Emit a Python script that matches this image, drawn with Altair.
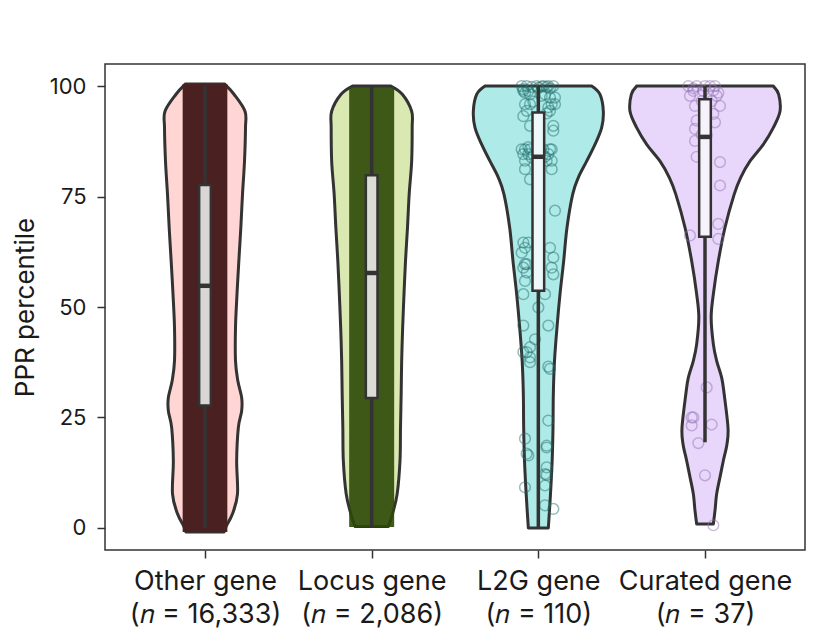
import altair as alt
import pandas as pd

# ---------------- data ----------------
categories = ["Other gene", "Locus gene", "L2G gene", "Curated gene"]
counts = ["16,333", "2,086", "110", "37"]
positions = [0, 1, 2, 3]

# violin outlines: y level and half-width (in x units)
other_y = [100.5, 98.1, 94.3, 90.6, 83.0, 75.5, 68.0, 60.4, 52.9, 45.4, 37.8, 33.3, 29.5, 26.5, 22.7, 15.2, 7.7, 3.2, 0.2, -0.9]
other_w = [0.117, 0.175, 0.240, 0.243, 0.237, 0.225, 0.215, 0.203, 0.192, 0.183, 0.183, 0.197, 0.220, 0.220, 0.200, 0.190, 0.195, 0.165, 0.125, 0.115]

locus_y = [100.0, 98.1, 94.3, 90.6, 83.0, 75.5, 68.0, 60.4, 52.9, 45.4, 37.8, 30.3, 22.7, 15.2, 7.7, 3.2, 0.3]
locus_w = [0.115, 0.185, 0.240, 0.243, 0.240, 0.225, 0.215, 0.203, 0.194, 0.186, 0.180, 0.177, 0.173, 0.170, 0.153, 0.125, 0.100]

l2g_y = [100.0, 98.1, 94.3, 90.6, 86.8, 83.0, 79.3, 75.5, 68.0, 60.4, 52.9, 45.4, 37.8, 30.3, 22.7, 15.2, 7.7, 0.0]
l2g_w = [0.320, 0.370, 0.390, 0.380, 0.340, 0.290, 0.240, 0.206, 0.172, 0.152, 0.130, 0.112, 0.097, 0.090, 0.088, 0.083, 0.073, 0.060]

cur_y = [100.0, 98.1, 94.3, 90.6, 86.8, 83.0, 79.3, 75.5, 68.0, 60.4, 52.9, 47.6, 41.6, 37.8, 34.0, 30.3, 22.7, 19.0, 15.2, 11.5, 7.7, 3.9, 0.9]
cur_w = [0.410, 0.442, 0.450, 0.410, 0.350, 0.270, 0.214, 0.175, 0.120, 0.080, 0.050, 0.037, 0.050, 0.070, 0.100, 0.115, 0.138, 0.132, 0.110, 0.090, 0.070, 0.060, 0.050]

# box plot statistics
q1 = [27.7, 29.4, 53.7, 65.9]
median = [54.8, 57.7, 84.0, 88.5]
q3 = [77.6, 79.8, 94.0, 97.0]
whisk_lo = [0.0, 0.0, 0.0, 19.4]
whisk_hi = [100.0, 100.0, 100.0, 100.0]

# dense jitter clouds (Other gene / Locus gene): y extent and half-width
cloud_groups = ["Other gene", "Locus gene"]
cloud_lo = [-0.9, 0.2]
cloud_hi = [100.5, 99.8]
cloud_hw = [0.134, 0.135]

# individual jittered points: (PPR percentile, jitter offset)
l2g_points = [
    (100.0, -0.10), (100.0, -0.07), (100.0, -0.01), (100.0, 0.03), (100.0, 0.06), (100.0, 0.09),
    (99.8, -0.04), (99.8, 0.05), (99.6, 0.00), (99.5, 0.07), (99.3, -0.09), (99.9, 0.02),
    (98.9, -0.09), (98.9, -0.06), (98.5, -0.08), (98.1, -0.05), (98.1, 0.04), (97.8, 0.02),
    (97.4, 0.07), (97.4, 0.10), (96.5, -0.03), (95.9, -0.08), (95.9, -0.05), (95.9, 0.08),
    (95.9, 0.10), (95.2, 0.06), (94.4, -0.07), (94.4, 0.07), (93.8, 0.05), (93.2, -0.09),
    (91.0, -0.05), (91.0, 0.09), (89.9, 0.09), (86.2, -0.06), (85.7, -0.10), (85.7, -0.08),
    (85.7, -0.05), (85.7, 0.03), (85.7, 0.07), (85.7, 0.08), (85.2, 0.01), (84.6, -0.09),
    (84.6, -0.06), (84.6, 0.06), (84.0, 0.04), (83.8, -0.04), (83.1, -0.08), (83.1, 0.08),
    (83.1, 0.05), (81.2, -0.08), (81.2, 0.08), (78.9, -0.05), (71.8, 0.10), (64.6, -0.09),
    (64.6, -0.06), (63.4, -0.08), (63.4, 0.07), (62.3, -0.10), (61.2, 0.09), (59.7, -0.07),
    (59.7, -0.08), (58.9, -0.09), (58.9, 0.08), (57.8, -0.07), (57.4, 0.09), (55.9, -0.08),
    (52.9, -0.09), (52.9, 0.04), (49.9, 0.00), (45.8, -0.09), (45.8, 0.06), (42.7, -0.02),
    (40.9, -0.05), (39.8, -0.09), (39.8, -0.07), (38.6, -0.05), (37.5, -0.05), (36.5, 0.06),
    (36.0, 0.07), (24.3, 0.06), (20.2, -0.08), (18.6, 0.05), (18.2, 0.05), (16.8, -0.07),
    (16.4, -0.06), (13.7, 0.05), (12.2, 0.04), (12.0, 0.05), (9.6, 0.04), (9.2, -0.08),
    (5.1, 0.04), (4.3, 0.09),
]
cur_points = [
    (100.0, -0.10), (100.0, -0.05), (100.0, 0.03), (100.0, 0.06), (100.0, 0.00), (99.5, -0.07),
    (99.0, 0.05), (98.9, -0.07), (98.9, -0.01), (98.5, 0.08), (97.8, -0.09), (97.8, 0.07),
    (96.6, -0.02), (96.6, 0.04), (95.5, 0.09), (95.5, -0.06), (93.7, 0.05), (92.2, -0.05),
    (91.8, 0.06), (90.3, -0.06), (89.0, -0.02), (88.9, 0.01), (87.6, -0.06), (84.0, -0.05),
    (82.8, 0.09), (77.5, 0.09), (68.8, 0.08), (66.2, -0.09), (65.4, 0.08), (31.8, 0.01),
    (25.0, -0.08), (25.0, -0.07), (23.2, -0.08), (23.4, 0.04), (19.2, -0.04), (11.9, 0.00),
    (0.6, 0.05),
]

# ---------------- styles ----------------
violin_fill = ["#ffd6d3", "#d9e9b1", "#aeeae8", "#e9d6fb"]
box_fill = ["#dad6d6", "#dcdcd6", "#eef8f8", "#f7f1fc"]
cloud_color = ["#4a2020", "#2c4807"]
cloud_opacity = [1.0, 0.9]
point_color = {"L2G gene": "#1d6e6a", "Curated gene": "#8f70b3"}
INK = "#333333"
FONT = "Inter"

# ---------------- tables ----------------
shapes = [(other_y, other_w), (locus_y, locus_w), (l2g_y, l2g_w), (cur_y, cur_w)]
vrows = []
for cat, pos, (ys, ws) in zip(categories, positions, shapes):
    for yv, wv in zip(ys, ws):
        vrows.append({"group": cat, "y": yv, "lo": pos - wv, "hi": pos + wv})
vdf = pd.DataFrame(vrows)

bdf = pd.DataFrame({
    "group": categories, "pos": positions, "q1": q1, "med": median, "q3": q3,
    "wlo": whisk_lo, "whi": whisk_hi, "fill": box_fill,
})
bdf["b0"] = bdf["pos"] - 0.035
bdf["b1"] = bdf["pos"] + 0.035

cpos = [positions[categories.index(g)] for g in cloud_groups]
cdf = pd.DataFrame({
    "group": cloud_groups, "lo": cloud_lo, "hi": cloud_hi,
    "x0": [p - w for p, w in zip(cpos, cloud_hw)],
    "x1": [p + w for p, w in zip(cpos, cloud_hw)],
    "col": cloud_color, "op": cloud_opacity,
})

prows = []
for cat, pts in (("L2G gene", l2g_points), ("Curated gene", cur_points)):
    pos = positions[categories.index(cat)]
    for yv, dx in pts:
        prows.append({"group": cat, "py": yv, "px": pos + dx, "col": point_color[cat]})
pdf = pd.DataFrame(prows)

# ---------------- scales / axes ----------------
x_scale = alt.Scale(domain=[-0.6, 3.6], nice=False, zero=False)
y_scale = alt.Scale(domain=[-5, 105], nice=False, zero=False)

label_expr = ""
for pos, cat, n in zip(positions, categories, counts):
    label_expr += f"datum.value == {pos} ? ['{cat}', '(\U0001D45B = {n})'] : "
label_expr += "''"

x_axis = alt.Axis(
    values=positions, title=None, labelExpr=label_expr, grid=False, domain=False,
    tickSize=8, tickColor=INK, tickWidth=1.5, labelFontSize=27, labelLineHeight=33,
    labelPadding=10, labelColor="#1a1a1a", labelFont=FONT,
)
y_axis = alt.Axis(
    values=[0, 25, 50, 75, 100], title="PPR percentile", grid=False, domain=False,
    tickSize=8, tickColor=INK, tickWidth=1.5, labelFontSize=22, labelPadding=11,
    labelColor="#1a1a1a", labelFont=FONT, titleFont=FONT, titleFontSize=26,
    titleFontWeight="normal", titleColor="#1a1a1a", titlePadding=11,
)


def X(field):
    return alt.X(field, scale=x_scale, axis=x_axis, title=None)


def Y(field):
    return alt.Y(field, scale=y_scale, axis=y_axis, title="PPR percentile")


violins = alt.Chart(vdf).mark_area(
    orient="horizontal", stroke=INK, strokeWidth=3, strokeJoin="round", interpolate="cardinal"
).encode(
    y=Y("y:Q"),
    x=X("lo:Q"),
    x2="hi:Q",
    fill=alt.Fill("group:N", scale=alt.Scale(domain=categories, range=violin_fill), legend=None),
)

clouds = alt.Chart(cdf).mark_rect().encode(
    x=X("x0:Q"), x2="x1:Q",
    y=Y("lo:Q"), y2="hi:Q",
    fill=alt.Fill("col:N", scale=None),
    opacity=alt.Opacity("op:Q", scale=None),
)

points = alt.Chart(pdf).mark_point(filled=False, size=115, strokeWidth=1.5, opacity=0.45).encode(
    x=X("px:Q"),
    y=Y("py:Q"),
    stroke=alt.Stroke("col:N", scale=None),
)

whiskers = alt.Chart(bdf).mark_rule(color=INK, strokeWidth=3.5).encode(
    x=X("pos:Q"),
    y=Y("wlo:Q"), y2="whi:Q",
)

boxes = alt.Chart(bdf).mark_rect(stroke=INK, strokeWidth=2.5).encode(
    x=X("b0:Q"), x2="b1:Q",
    y=Y("q1:Q"), y2="q3:Q",
    fill=alt.Fill("fill:N", scale=None),
)

medians = alt.Chart(bdf).mark_rule(color=INK, strokeWidth=4.5).encode(
    x=X("b0:Q"), x2="b1:Q",
    y=Y("med:Q"),
)

chart = alt.layer(violins, clouds, points, whiskers, boxes, medians).properties(
    width=700, height=486,
    autosize=alt.AutoSizeParams(type="none"),
    padding={"left": 97, "top": 56, "right": 8, "bottom": 78},
).configure(
    font=FONT, background="white"
).configure_view(stroke=INK, strokeWidth=1.5)

chart.save("out.html", embed_options={"renderer": "svg", "actions": False})
